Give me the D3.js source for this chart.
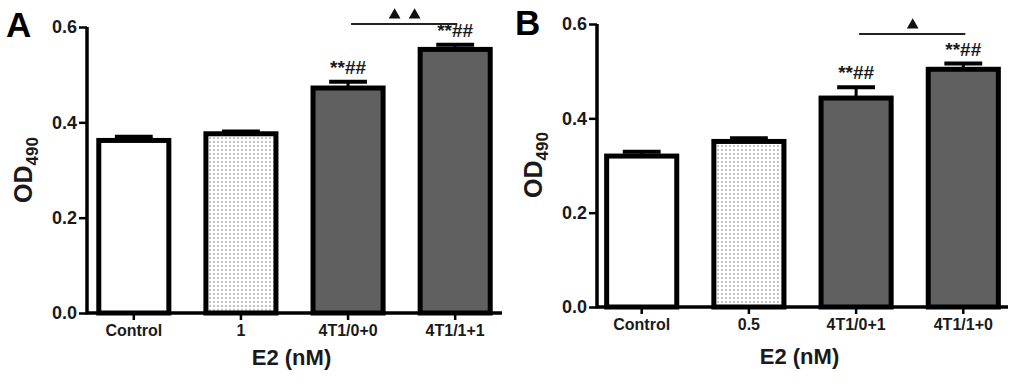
<!DOCTYPE html>
<html><head><meta charset="utf-8">
<script src="https://cdn.jsdelivr.net/npm/d3@7"></script>
<style>body{margin:0;background:#fff}svg{display:block}</style>
</head><body>
<svg id="c" width="1016" height="386"></svg>
<script>
const yTicks = [0.0, 0.2, 0.4, 0.6];
const categoriesA = ["Control", "1", "4T1/0+0", "4T1/1+1"];
const meansA = [0.362, 0.376, 0.472, 0.553];
const semA = [0.008, 0.005, 0.013, 0.010];
const marksA = ["", "", "**##", "**##"];
const categoriesB = ["Control", "0.5", "4T1/0+1", "4T1/1+0"];
const meansB = [0.320, 0.351, 0.443, 0.504];
const semB = [0.009, 0.007, 0.023, 0.012];
const marksB = ["", "", "**##", "**##"];
const fills = ["white", "dots", "dark", "dark"];

const svg = d3.select("#c");
const defs = svg.append("defs");
const pat = defs.append("pattern").attr("id","dots").attr("width",4).attr("height",4)
  .attr("patternUnits","userSpaceOnUse");
pat.append("rect").attr("width",4).attr("height",4).attr("fill","#fff");
pat.append("circle").attr("cx",2).attr("cy",2).attr("r",0.9).attr("fill","#a8a8a8");

const TXT = "#1a1a1a";
const FONT = "Liberation Sans, Arial, sans-serif";
function fillOf(k){ return k==="white" ? "#fff" : k==="dots" ? "url(#dots)" : "#606060"; }

function panel(o){
  const g = svg.append("g");
  const x = d3.scaleBand().domain(o.cats).range([o.x0, o.x1]).paddingInner(0.346).paddingOuter(o.po);
  const y = d3.scaleLinear().domain([0, 0.6]).range([o.y0, o.y1]);
  o.cats.forEach((c,i)=>{
    const cx = x(c) + x.bandwidth()/2;
    const bw = x.bandwidth();
    g.append("line").attr("x1",cx).attr("x2",cx).attr("y1",y(o.means[i])).attr("y2",y(o.means[i]+o.sem[i]))
      .attr("stroke","#000").attr("stroke-width",3);
    g.append("line").attr("x1",cx-bw*0.27).attr("x2",cx+bw*0.27)
      .attr("y1",y(o.means[i]+o.sem[i])).attr("y2",y(o.means[i]+o.sem[i]))
      .attr("stroke","#000").attr("stroke-width",4);
    g.append("rect").attr("x",x(c)).attr("width",bw).attr("y",y(o.means[i])).attr("height",y(0)-y(o.means[i]))
      .attr("fill",fillOf(fills[i])).attr("stroke","#000").attr("stroke-width",5);
    if (o.marks[i]) {
      g.append("text").attr("x",cx).attr("y",y(o.means[i]+o.sem[i]) - 8).attr("text-anchor","middle")
        .attr("font-family",FONT).attr("font-weight","bold").attr("font-size",19)
        .attr("fill",TXT).text(o.marks[i]);
    }
  });
  const ya = g.append("g").attr("transform",`translate(${o.x0},0)`)
    .call(d3.axisLeft(y).tickValues(yTicks).tickFormat(d3.format(".1f")).tickSize(8).tickPadding(2));
  const xa = g.append("g").attr("transform",`translate(0,${o.y0})`)
    .call(d3.axisBottom(x).tickSize(7).tickPadding(5));
  [ya, xa].forEach(a=>{
    a.select(".domain").remove();
    a.selectAll(".tick line").attr("stroke","#000").attr("stroke-width",2.5);
    a.selectAll(".tick text").attr("fill",TXT).attr("font-family",FONT).attr("font-weight","bold");
  });
  g.append("line").attr("x1",o.x0).attr("x2",o.x0).attr("y1",o.y0+1.5).attr("y2",o.y1)
    .attr("stroke","#000").attr("stroke-width",3.5);
  g.append("line").attr("x1",o.x0).attr("x2",o.x1).attr("y1",o.y0).attr("y2",o.y0)
    .attr("stroke","#000").attr("stroke-width",3.5);
  ya.selectAll(".tick text").attr("font-size",18);
  xa.selectAll(".tick text").attr("font-size",16);
  g.append("text").attr("x",(o.x0+o.x1)/2 - 3).attr("y",o.titleY).attr("text-anchor","middle")
    .attr("font-family",FONT).attr("font-weight","bold").attr("font-size",22)
    .attr("fill",TXT).text("E2 (nM)");
  const yl = g.append("text").attr("transform",`translate(${o.ylx},${o.yly}) rotate(-90)`).attr("text-anchor","middle")
    .attr("font-family",FONT).attr("font-weight","bold").attr("fill",TXT);
  yl.append("tspan").attr("font-size",25).text("OD");
  yl.append("tspan").attr("font-size",17).attr("dy",6).text("490");
  g.append("text").attr("x",o.lx).attr("y",o.ly).attr("font-family",FONT)
    .attr("font-weight","bold").attr("font-size",35).attr("fill","#000").text(o.letter);
  const c2 = x(o.cats[2]) + x.bandwidth()/2, c3 = x(o.cats[3]) + x.bandwidth()/2;
  g.append("line").attr("x1",c2+3).attr("x2",c3+2).attr("y1",o.brY).attr("y2",o.brY)
    .attr("stroke","#222").attr("stroke-width",2);
  const mid = (c2+c3)/2 + 3;
  const n = o.nTri;
  for (let k=0;k<n;k++){
    const tx = mid + (k-(n-1)/2)*20;
    g.append("path").attr("d",d3.symbol(d3.symbolTriangle,60)())
      .attr("transform",`translate(${tx},${o.brY-9})`).attr("fill","#111");
  }
}

panel({cats:categoriesA, means:meansA, sem:semA, marks:marksA, x0:87, x1:502, po:0.11,
  y0:313, y1:27, titleY:365, ylx:32, yly:170, lx:6, ly:37, letter:"A", brY:24, nTri:2});
panel({cats:categoriesB, means:meansB, sem:semB, marks:marksB, x0:597, x1:1008, po:0.09,
  y0:307, y1:24, titleY:364, ylx:542, yly:165, lx:515, ly:35, letter:"B", brY:34, nTri:1});
</script>
</body></html>
